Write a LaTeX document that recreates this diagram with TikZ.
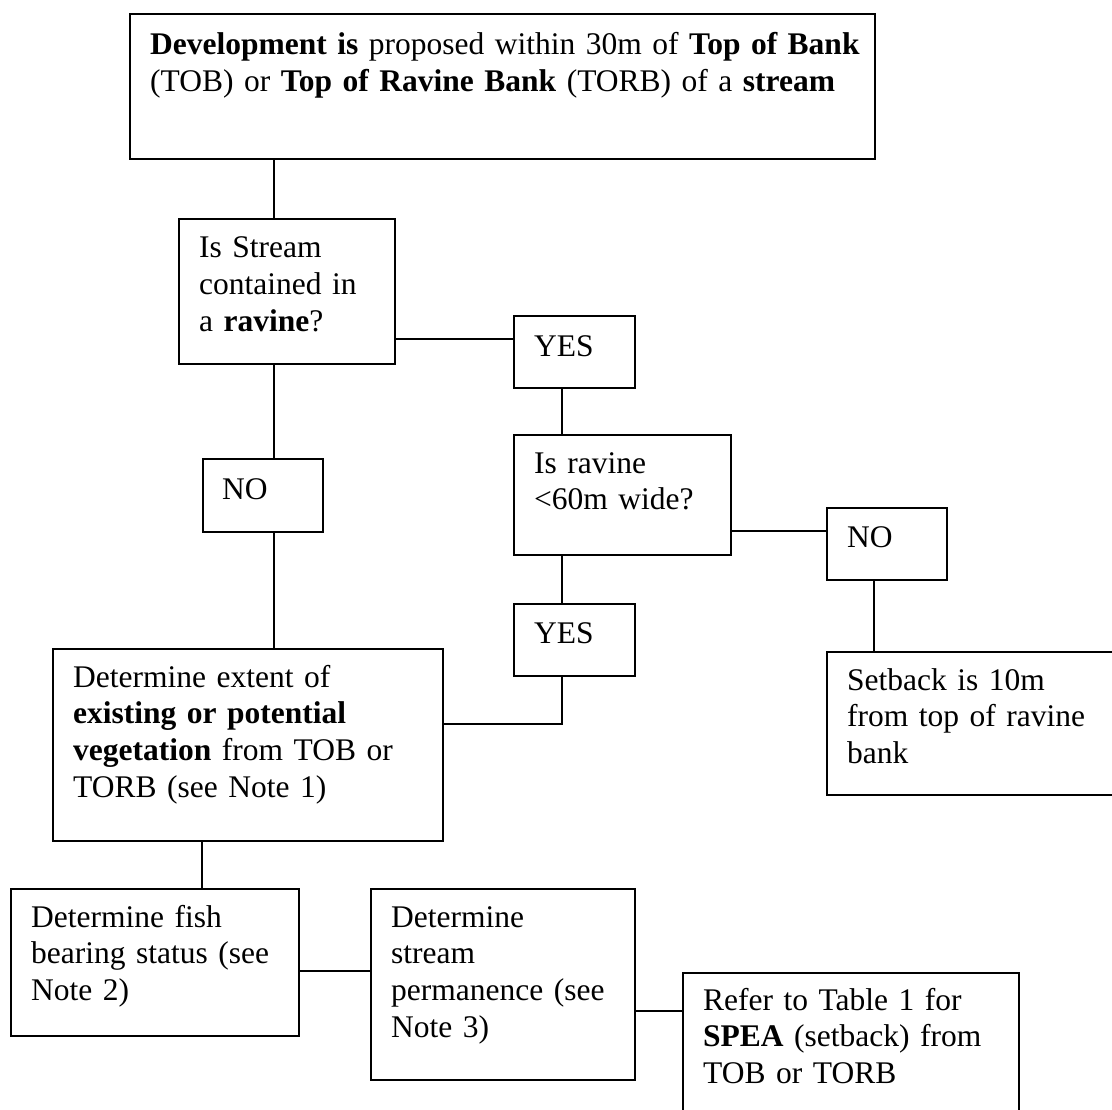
\documentclass[tikz,border=0pt]{standalone}
\usepackage{fontspec}
\setmainfont{Liberation Serif}

\begin{document}
\begin{tikzpicture}[x=1pt,y=-1pt,
  box/.style={draw,line width=2.2pt,inner sep=0pt,anchor=north west},
  txt/.style={anchor=base west,inner sep=0pt,align=left,font=\fontsize{31.5}{36.7}\selectfont},
  link/.style={line width=1.8pt}]
  \useasboundingbox (0,0) rectangle (1112,1110);
  % boxes
  \node[box,minimum width=745,minimum height=145] (dev) at (129,13) {};
  \node[box,minimum width=216,minimum height=145] (stream) at (178,218) {};
  \node[box,minimum width=121,minimum height=72] (yes1) at (513,315) {};
  \node[box,minimum width=217,minimum height=120] (ravine) at (513,434) {};
  \node[box,minimum width=120,minimum height=73] (noL) at (202,458) {};
  \node[box,minimum width=120,minimum height=72] (noR) at (826,507) {};
  \node[box,minimum width=121,minimum height=72] (yes2) at (513,603) {};
  \node[box,minimum width=390,minimum height=192] (det) at (52,648) {};
  \node[box,minimum width=290,minimum height=143] (setback) at (826,651) {};
  \node[box,minimum width=288,minimum height=147] (fish) at (10,888) {};
  \node[box,minimum width=264,minimum height=191] (perm) at (370,888) {};
  \node[box,minimum width=336,minimum height=145] (refer) at (682,972) {};
  % texts
  \node[txt,text width=720] (dev-t) at ([shift={(21,42)}]dev.north west) {\textbf{Development is} proposed within 30m of \textbf{Top of Bank}\\(TOB) or \textbf{Top of Ravine Bank} (TORB) of a \textbf{stream}};
  \node[txt,text width=200] (stream-t) at ([shift={(21,40)}]stream.north west) {Is Stream\\contained in\\a \textbf{ravine}?};
  \node[txt,text width=100] (yes1-t) at ([shift={(21,41)}]yes1.north west) {YES};
  \node[txt,text width=200] (ravine-t) at ([shift={(21,39)}]ravine.north west) {Is ravine\\<60m wide?};
  \node[txt,text width=100] (noL-t) at ([shift={(20,41)}]noL.north west) {NO};
  \node[txt,text width=100] (noR-t) at ([shift={(21,40)}]noR.north west) {NO};
  \node[txt,text width=100] (yes2-t) at ([shift={(21,40)}]yes2.north west) {YES};
  \node[txt,text width=370] (det-t) at ([shift={(21,39)}]det.north west) {Determine extent of\\\textbf{existing or potential}\\\textbf{vegetation} from TOB or\\TORB (see Note 1)};
  \node[txt,text width=270] (setback-t) at ([shift={(21,39)}]setback.north west) {Setback is 10m\\from top of ravine\\bank};
  \node[txt,text width=270] (fish-t) at ([shift={(21,39)}]fish.north west) {Determine fish\\bearing status (see\\Note 2)};
  \node[txt,text width=250] (perm-t) at ([shift={(21,39)}]perm.north west) {Determine\\stream\\permanence (see\\Note 3)};
  \node[txt,text width=320] (refer-t) at ([shift={(21,38)}]refer.north west) {Refer to Table 1 for\\\textbf{SPEA} (setback) from\\TOB or TORB};
  % connectors
  \coordinate (spine) at (274,0);
  \coordinate (mid) at (562,0);
  \coordinate (side) at (874,0);
  \coordinate (fcol) at (202,0);
  \coordinate (yesrow) at (0,339);
  \coordinate (norow) at (0,531);
  \coordinate (vegrow) at (0,724);
  \coordinate (fishrow) at (0,971);
  \coordinate (spearow) at (0,1011);
  \draw[link] (spine |- dev.south) -- (spine |- stream.north);
  \draw[link] (spine |- stream.south) -- (spine |- noL.north);
  \draw[link] (spine |- noL.south) -- (spine |- det.north);
  \draw[link] (stream.east |- yesrow) -- (yes1.west |- yesrow);
  \draw[link] (mid |- yes1.south) -- (mid |- ravine.north);
  \draw[link] (mid |- ravine.south) -- (mid |- yes2.north);
  \draw[link] (mid |- yes2.south) -- (mid |- vegrow) -- (det.east |- vegrow);
  \draw[link] (ravine.east |- norow) -- (noR.west |- norow);
  \draw[link] (side |- noR.south) -- (side |- setback.north);
  \draw[link] (fcol |- det.south) -- (fcol |- fish.north);
  \draw[link] (fish.east |- fishrow) -- (perm.west |- fishrow);
  \draw[link] (perm.east |- spearow) -- (refer.west |- spearow);
\end{tikzpicture}
\end{document}
